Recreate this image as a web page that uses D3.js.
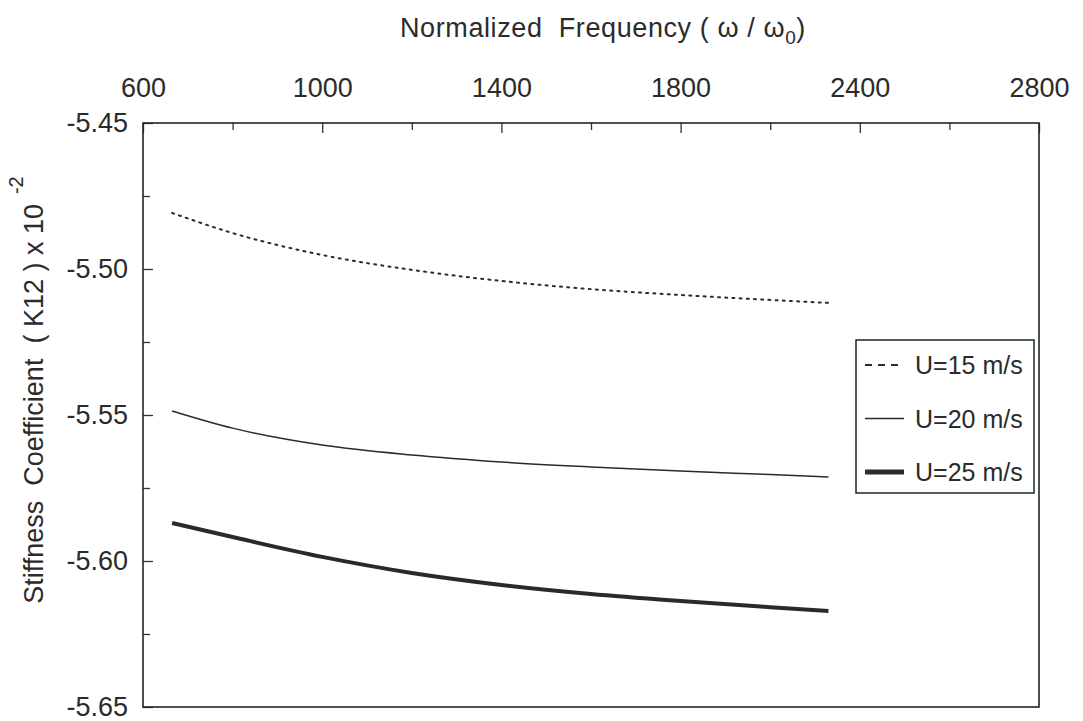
<!DOCTYPE html>
<html>
<head>
<meta charset="utf-8">
<script src="https://cdn.jsdelivr.net/npm/d3@7"></script>
<style>
  body { margin: 0; background: #fff; }
  text { font-family: "Liberation Sans", Arial, sans-serif; fill: #2b2b2b; }
</style>
</head>
<body>
<div id="chart"></div>
<script>
// Data
const freq = [665, 800, 1000, 1200, 1400, 1600, 1800, 2000, 2130];
const u15 = [-5.4808, -5.4877, -5.4952, -5.5003, -5.5041, -5.5069, -5.5089, -5.5106, -5.5116];
const u20 = [-5.5486, -5.5545, -5.5603, -5.5637, -5.5661, -5.5678, -5.5692, -5.5704, -5.5712];
const u25 = [-5.5870, -5.5918, -5.5986, -5.6041, -5.6082, -5.6113, -5.6137, -5.6158, -5.6171];
const seriesNames = ["U=15 m/s", "U=20 m/s", "U=25 m/s"];

const xMajor = [600, 1000, 1400, 1800, 2200, 2600];
const xMajorLabels = ["600", "1000", "1400", "1800", "2400", "2800"];
const xMinor = [800, 1200, 1600, 2000, 2400];
const yMajor = [-5.65, -5.60, -5.55, -5.50, -5.45];
const yMajorLabels = ["-5.65", "-5.60", "-5.55", "-5.50", "-5.45"];
const yMinor = [-5.625, -5.575, -5.525, -5.475];

const totalWidth = 1083;
const totalHeight = 721;
const margin = {top: 123, right: 44, bottom: 14, left: 143};
const width = totalWidth - margin.left - margin.right;
const height = totalHeight - margin.top - margin.bottom;

const svg = d3.select("#chart")
  .append("svg")
  .attr("width", totalWidth)
  .attr("height", totalHeight);

const g = svg.append("g")
  .attr("transform", `translate(${margin.left}, ${margin.top})`);

const x = d3.scaleLinear().domain([600, 2600]).range([0, width]);
const y = d3.scaleLinear().domain([-5.65, -5.45]).range([height, 0]);

// top axis: minor then major ticks, pointing inward
g.append("g")
  .call(d3.axisTop(x).tickValues(xMinor).tickSize(-7).tickFormat(""))
  .call(a => a.select(".domain").remove());
g.append("g")
  .style("font-size", "27px")
  .call(d3.axisTop(x).tickValues(xMajor).tickSize(-10).tickPadding(26)
    .tickFormat((d, i) => xMajorLabels[i]))
  .call(a => a.select(".domain").remove());

// left axis
g.append("g")
  .call(d3.axisLeft(y).tickValues(yMinor).tickSize(-7).tickFormat(""))
  .call(a => a.select(".domain").remove());
g.append("g")
  .style("font-size", "27px")
  .call(d3.axisLeft(y).tickValues(yMajor).tickSize(-10).tickPadding(15)
    .tickFormat((d, i) => yMajorLabels[i]))
  .call(a => a.select(".domain").remove());

g.selectAll(".tick line").attr("stroke", "#333").attr("stroke-width", 1.3);
g.selectAll(".tick text").attr("fill", "#2b2b2b").style("font-family", '"Liberation Sans", Arial, sans-serif');

// frame
g.append("rect")
  .attr("width", width)
  .attr("height", height)
  .attr("fill", "none")
  .attr("stroke", "#1c2626")
  .attr("stroke-width", 1.6);

// lines
const series = [
  {name: seriesNames[0], values: u15, width: 2, dash: "2,5.2", legendDash: "7,6"},
  {name: seriesNames[1], values: u20, width: 1.5, dash: null, legendDash: null},
  {name: seriesNames[2], values: u25, width: 4, dash: null, legendDash: null}
];

const line = d3.line()
  .x((d, i) => x(freq[i]))
  .y(d => y(d))
  .curve(d3.curveMonotoneX);

g.selectAll(".series")
  .data(series)
  .join("path")
  .attr("class", "series")
  .attr("d", d => line(d.values))
  .attr("fill", "none")
  .attr("stroke", "#2a2a2a")
  .attr("stroke-width", d => d.width)
  .attr("stroke-linecap", d => d.dash ? "round" : "butt")
  .attr("stroke-dasharray", d => d.dash);

// legend
const legend = svg.append("g").attr("transform", "translate(856, 340)");
legend.append("rect")
  .attr("width", 178)
  .attr("height", 153)
  .attr("fill", "#fff")
  .attr("stroke", "#1c2626")
  .attr("stroke-width", 1.5);

const rows = legend.selectAll(".row")
  .data(series)
  .join("g")
  .attr("class", "row")
  .attr("transform", (d, i) => `translate(0, ${25 + i * 53.5})`);
rows.append("line")
  .attr("x1", 9).attr("x2", 48)
  .attr("stroke", "#2a2a2a")
  .attr("stroke-width", d => d.width === 4 ? 5 : d.width)
  .attr("stroke-dasharray", d => d.legendDash);
rows.append("text")
  .attr("x", 59)
  .attr("dy", "0.36em")
  .style("font-size", "25px")
  .text(d => d.name);

// axis titles
const xt = svg.append("text")
  .attr("x", 400)
  .attr("y", 37)
  .attr("xml:space", "preserve")
  .style("font-size", "27px")
  .style("letter-spacing", "0.6px");
xt.append("tspan").text("Normalized  Frequency ( \u03c9 / \u03c9");
xt.append("tspan").attr("dy", 7).style("font-size", "19px").text("0");
xt.append("tspan").attr("dy", -7).text(")");

const yt = svg.append("text")
  .attr("transform", "translate(43, 390) rotate(-90)")
  .attr("text-anchor", "middle")
  .attr("xml:space", "preserve")
  .style("font-size", "27px");
yt.append("tspan").text("Stiffness  Coefficient  ( K12 ) x 10");
yt.append("tspan").attr("dy", -20).attr("dx", 10).style("font-size", "20px").text("-2");
</script>
</body>
</html>
